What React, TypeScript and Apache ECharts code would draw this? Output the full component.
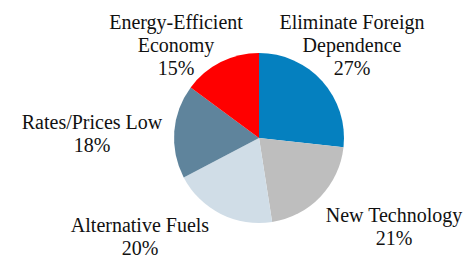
import React, { useEffect, useRef } from "react";
import * as echarts from "echarts";

const categories = [
  "Eliminate Foreign\nDependence",
  "New Technology",
  "Alternative Fuels",
  "Rates/Prices Low",
  "Energy-Efficient\nEconomy",
];
const values = [27, 21, 20, 18, 15];
const colors = ["#0580BF", "#BEBEBE", "#D0DDE7", "#5F849C", "#FF0000"];
const labelCenters: [number, number][] = [
  [352, 45],
  [394, 226.5],
  [140, 236.5],
  [92, 133.5],
  [176, 45],
];

export default function App() {
  const ref = useRef<HTMLDivElement>(null);
  useEffect(() => {
    if (!ref.current) return;
    const chart = echarts.init(ref.current, undefined, { renderer: "svg" });
    chart.setOption({
      animation: false,
      textStyle: { fontFamily: "Liberation Serif" },
      series: [
        {
          type: "pie",
          center: [259, 138],
          radius: 85,
          startAngle: 90,
          clockwise: true,
          data: categories.map((name, i) => ({
            name,
            value: values[i],
            itemStyle: { color: colors[i] },
          })),
          label: {
            show: true,
            position: "outside",
            formatter: "{b}\n{c}%",
            fontFamily: "Liberation Serif",
            fontSize: 20,
            lineHeight: 23,
            color: "#111",
            align: "center",
            overflow: "none",
            width: 300,
          },
          labelLine: { show: false },
          labelLayout: (params: any) => {
            const p = labelCenters[params.dataIndex];
            return { x: p[0], y: p[1], align: "center", verticalAlign: "middle" };
          },
          emphasis: { disabled: true },
        },
      ],
    });
    return () => chart.dispose();
  }, []);
  return <div ref={ref} style={{ width: 468, height: 255, position: "absolute", left: 0, top: 0 }} />;
}
